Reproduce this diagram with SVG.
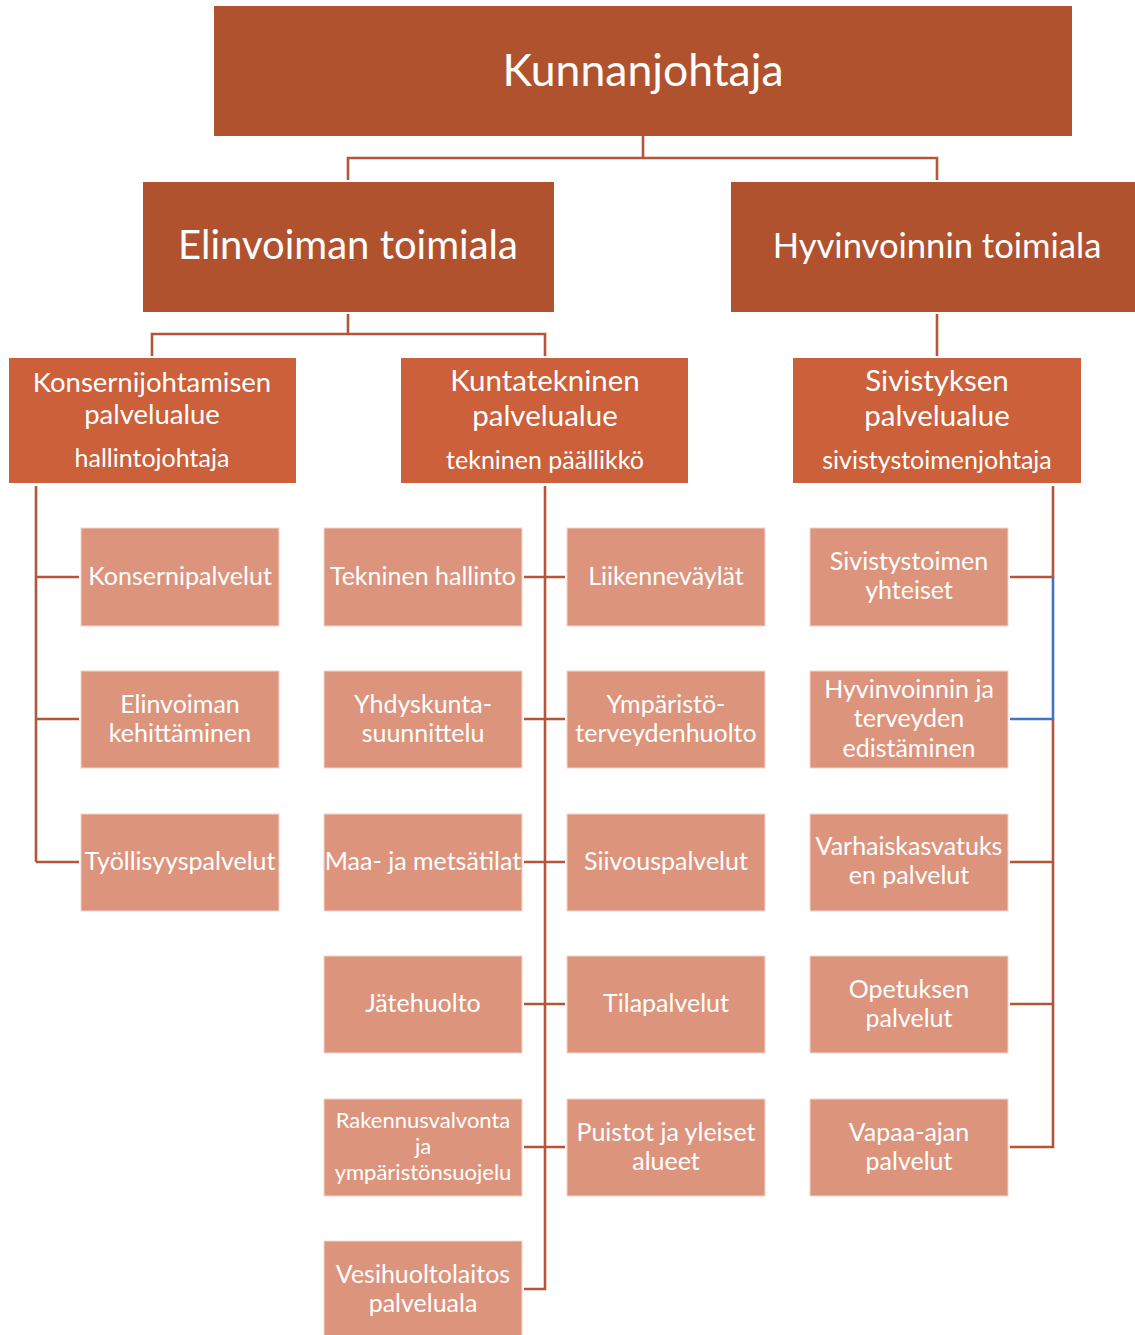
<svg xmlns="http://www.w3.org/2000/svg" width="1135" height="1335" viewBox="0 0 1135 1335">
<style>
text{font-family:Lato,"Liberation Sans",sans-serif;fill:#fff;text-anchor:middle}
.l1{fill:#B1522F}
.l2{fill:#B1522F}
.l3{fill:#CB603A}
.l4{fill:#DD947C;stroke:#F2D5CB;stroke-width:1}
.t1{font-size:44.5px}
.t2a{font-size:40px}
.t2b{font-size:34.6px}
.t3a{font-size:27.5px}
.t3{font-size:29.5px}
.t3s{font-size:25px}
.t4{font-size:25px}
.t4s{font-size:22px}
.c{fill:none;stroke:#B4553A;stroke-width:2.6}
.cb{fill:none;stroke:#4472C4;stroke-width:2.6}
</style>
<rect width="1135" height="1335" fill="#fff"/>
<g id="connectors">
<path class="c" d="M643 136V158M348 180V158H937V180"/>
<path class="c" d="M348 314V334M152 356V334H545V356"/>
<path class="c" d="M937 314V356"/>
<path class="c" d="M36 486V862M36 577H79M36 719H79M36 862H79"/>
<path class="c" d="M545 486V1289H524M524 577H565M524 719H565M524 862H565M524 1004H565M524 1147H565"/>
<path class="c" d="M1053 486V577H1010M1053 719V1147H1010M1010 862H1053M1010 1004H1053"/>
<path class="cb" d="M1053 577V719H1010"/>
</g>
<g id="kunnanjohtaja"><rect class="l1" x="214" y="6" width="858" height="130"/><text class="t1" x="643" y="86">Kunnanjohtaja</text></g>
<g id="elinvoiman"><rect class="l2" x="143" y="182" width="411" height="130"/><text class="t2a" x="348" y="259">Elinvoiman toimiala</text></g>
<g id="hyvinvoinnin"><rect class="l2" x="731" y="182" width="404" height="130"/><text class="t2b" x="937" y="258">Hyvinvoinnin toimiala</text></g>
<g id="konsernijohtamisen"><rect class="l3" x="9" y="358" width="287" height="125"/><text class="t3a" x="152" y="392">Konsernijohtamisen</text><text class="t3a" x="152" y="424">palvelualue</text><text class="t3s" x="152" y="467">hallintojohtaja</text></g>
<g id="kuntatekninen"><rect class="l3" x="401" y="358" width="287" height="125"/><text class="t3" x="545" y="391">Kuntatekninen</text><text class="t3" x="545" y="426">palvelualue</text><text class="t3s" x="545" y="469">tekninen päällikkö</text></g>
<g id="sivistyksen"><rect class="l3" x="793" y="358" width="288" height="125"/><text class="t3" x="937" y="391">Sivistyksen</text><text class="t3" x="937" y="426">palvelualue</text><text class="t3s" x="937" y="469">sivistystoimenjohtaja</text></g>

<g id="konsernipalvelut"><rect class="l4" x="81" y="528" width="198" height="98"/><text class="t4" x="180" y="585">Konsernipalvelut</text></g>
<g id="elinvoiman-kehittaminen"><rect class="l4" x="81" y="671" width="198" height="97"/><text class="t4" x="180" y="713">Elinvoiman</text><text class="t4" x="180" y="742">kehittäminen</text></g>
<g id="tyollisyyspalvelut"><rect class="l4" x="81" y="814" width="198" height="97"/><text class="t4" x="180" y="870">Työllisyyspalvelut</text></g>

<g id="tekninen-hallinto"><rect class="l4" x="324" y="528" width="198" height="98"/><text class="t4" x="423" y="585">Tekninen hallinto</text></g>
<g id="yhdyskunta"><rect class="l4" x="324" y="671" width="198" height="97"/><text class="t4" x="423" y="713">Yhdyskunta-</text><text class="t4" x="423" y="742">suunnittelu</text></g>
<g id="maa-metsa"><rect class="l4" x="324" y="814" width="198" height="97"/><text class="t4" x="423" y="870">Maa- ja metsätilat</text></g>
<g id="jatehuolto"><rect class="l4" x="324" y="956" width="198" height="97"/><text class="t4" x="423" y="1012">Jätehuolto</text></g>
<g id="rakennusvalvonta"><rect class="l4" x="324" y="1099" width="198" height="97"/><text class="t4s" x="423" y="1128">Rakennusvalvonta</text><text class="t4s" x="423" y="1154">ja</text><text class="t4s" x="423" y="1180">ympäristönsuojelu</text></g>
<g id="vesihuolto"><rect class="l4" x="324" y="1241" width="198" height="97"/><text class="t4" x="423" y="1283">Vesihuoltolaitos</text><text class="t4" x="423" y="1312">palveluala</text></g>

<g id="liikennevaylat"><rect class="l4" x="567" y="528" width="198" height="98"/><text class="t4" x="666" y="585">Liikenneväylät</text></g>
<g id="ymparisto"><rect class="l4" x="567" y="671" width="198" height="97"/><text class="t4" x="666" y="713">Ympäristö-</text><text class="t4" x="666" y="742">terveydenhuolto</text></g>
<g id="siivous"><rect class="l4" x="567" y="814" width="198" height="97"/><text class="t4" x="666" y="870">Siivouspalvelut</text></g>
<g id="tilapalvelut"><rect class="l4" x="567" y="956" width="198" height="97"/><text class="t4" x="666" y="1012">Tilapalvelut</text></g>
<g id="puistot"><rect class="l4" x="567" y="1099" width="198" height="97"/><text class="t4" x="666" y="1141">Puistot ja yleiset</text><text class="t4" x="666" y="1170">alueet</text></g>

<g id="sivistystoimen-yhteiset"><rect class="l4" x="810" y="528" width="198" height="98"/><text class="t4" x="909" y="570">Sivistystoimen</text><text class="t4" x="909" y="599">yhteiset</text></g>
<g id="hyvinvoinnin-terveyden"><rect class="l4" x="810" y="671" width="198" height="97"/><text class="t4" x="909" y="698">Hyvinvoinnin ja</text><text class="t4" x="909" y="727">terveyden</text><text class="t4" x="909" y="757">edistäminen</text></g>
<g id="varhaiskasvatus"><rect class="l4" x="810" y="814" width="198" height="97"/><text class="t4" x="909" y="855">Varhaiskasvatuks</text><text class="t4" x="909" y="884">en palvelut</text></g>
<g id="opetus"><rect class="l4" x="810" y="956" width="198" height="97"/><text class="t4" x="909" y="998">Opetuksen</text><text class="t4" x="909" y="1027">palvelut</text></g>
<g id="vapaa-aika"><rect class="l4" x="810" y="1099" width="198" height="97"/><text class="t4" x="909" y="1141">Vapaa-ajan</text><text class="t4" x="909" y="1170">palvelut</text></g>
</svg>
